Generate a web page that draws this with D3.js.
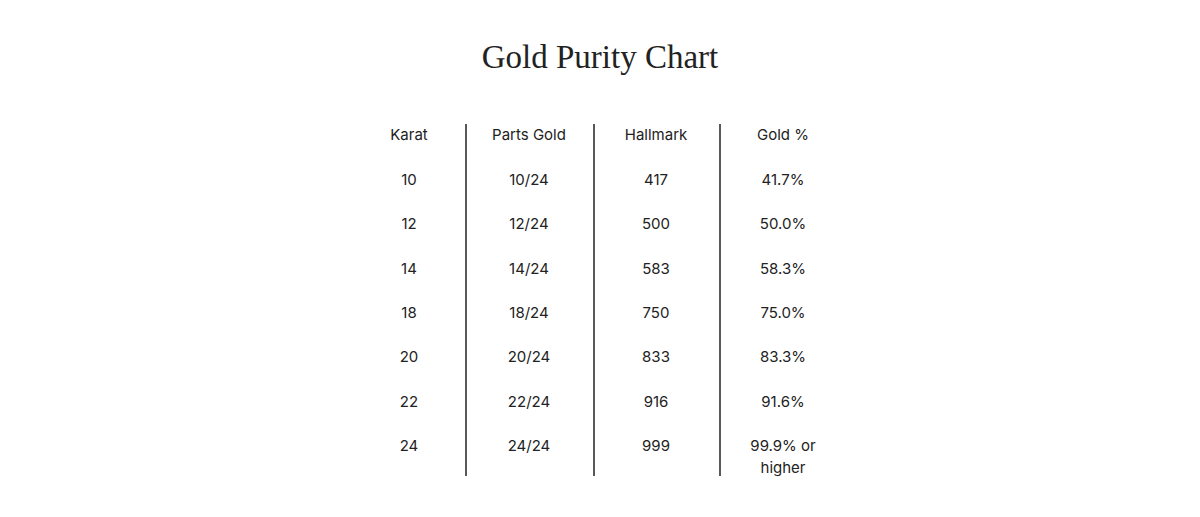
<!DOCTYPE html>
<html><head><meta charset="utf-8">
<script src="https://cdn.jsdelivr.net/npm/d3@7"></script>
<style>body{margin:0;background:#fff}</style>
</head><body><svg id="c" width="1200" height="517"></svg>
<script>
const headers = ["Karat", "Parts Gold", "Hallmark", "Gold %"];
const karats = ["10", "12", "14", "18", "20", "22", "24"];
const parts = ["10/24", "12/24", "14/24", "18/24", "20/24", "22/24", "24/24"];
const hallmarks = ["417", "500", "583", "750", "833", "916", "999"];
const percents = ["41.7%", "50.0%", "58.3%", "75.0%", "83.3%", "91.6%", "99.9% or\nhigher"];

const svg = d3.select("#c");
svg.append("text").attr("x", 600).attr("y", 68).attr("text-anchor", "middle")
  .attr("font-family", "'Liberation Serif', 'DejaVu Serif', serif").attr("font-size", 33)
  .attr("fill", "#222").text("Gold Purity Chart");

const cols = [karats, parts, hallmarks, percents];
const centers = [409, 529, 656, 783];
const dividers = [466, 594, 720];
const y = d3.scalePoint().domain(d3.range(8)).range([135, 446]);
const font = "Inter, 'Open Sans', sans-serif";

headers.forEach((h, i) => {
  const cx = centers[i];
  svg.append("text").attr("x", cx).attr("y", y(0)).attr("dy", "0.35em")
    .attr("text-anchor", "middle").attr("font-family", font).attr("font-size", 15).attr("fill", "#222").text(h);
  cols[i].forEach((v, r) => {
    const t = svg.append("text").attr("x", cx).attr("y", y(r+1))
      .attr("text-anchor", "middle").attr("font-family", font).attr("font-size", 15).attr("fill", "#222");
    v.split("\n").forEach((line, k) => t.append("tspan").attr("x", cx)
      .attr("dy", k === 0 ? "0.35em" : "1.45em").text(line));
  });
});
dividers.forEach(dx => {
  svg.append("line").attr("x1", dx).attr("x2", dx)
    .attr("y1", 124).attr("y2", 476).attr("stroke", "#222").attr("stroke-width", 1.5);
});
</script></body></html>
